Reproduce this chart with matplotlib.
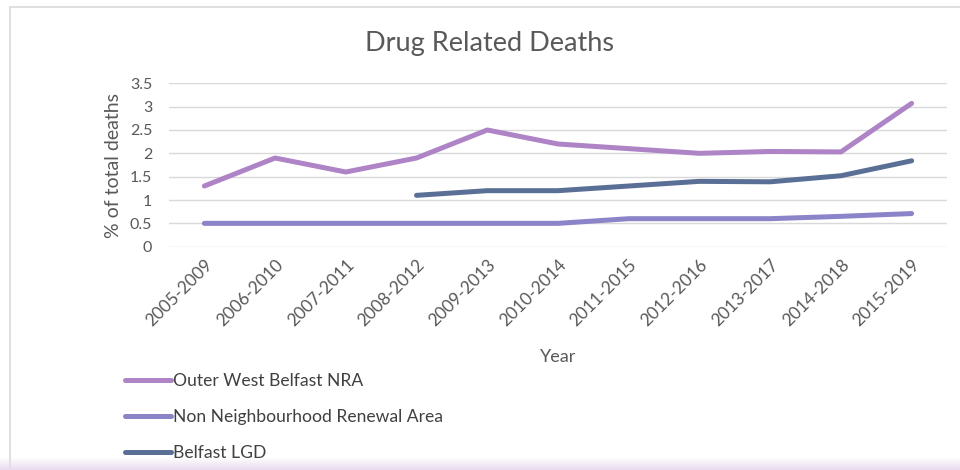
import numpy as np
import matplotlib
matplotlib.use("Agg")
import matplotlib.pyplot as plt
from matplotlib.patches import Rectangle

# data
periods = ["2005-2009", "2006-2010", "2007-2011", "2008-2012", "2009-2013", "2010-2014",
           "2011-2015", "2012-2016", "2013-2017", "2014-2018", "2015-2019"]
outer_west = [1.3, 1.9, 1.6, 1.9, 2.5, 2.2, 2.1, 2.0, 2.04, 2.03, 3.07]
non_nra = [0.5, 0.5, 0.5, 0.5, 0.5, 0.5, 0.6, 0.6, 0.6, 0.65, 0.71]
belfast_lgd = [np.nan, np.nan, np.nan, 1.1, 1.2, 1.2, 1.3, 1.4, 1.39, 1.52, 1.84]
y_ticks = [0, 0.5, 1, 1.5, 2, 2.5, 3, 3.5]
y_tick_labels = ["0", "0.5", "1", "1.5", "2", "2.5", "3", "3.5"]

plt.rcParams['font.family'] = ['Lato', 'DejaVu Sans']
grey = "#595959"

fig = plt.figure(figsize=(9.6, 4.7), dpi=100)

# chart frame and bottom tint
fig.patches.append(Rectangle((9.5/960, 0), 1.0, 1 - 6.5/470, transform=fig.transFigure,
                             facecolor="white", edgecolor="#d9d9d9", lw=1.2, zorder=0))
for i in range(12):
    fig.patches.append(Rectangle((0, i/470), 1, 1/470, transform=fig.transFigure,
                                 facecolor="#e9dcf0", alpha=1 - i/12, lw=0, zorder=1))

ax = fig.add_axes([169/960, 1 - 246.7/470, (947 - 169)/960, (246.7 - 83.3)/470])
ax.set_zorder(3)
ax.patch.set_alpha(0)
x = np.arange(len(periods))
lw = 3.6
ax.plot(x, outer_west, color="#ae84c6", lw=lw, solid_capstyle="round", label="Outer West Belfast NRA")
ax.plot(x, non_nra, color="#8c84c8", lw=lw, solid_capstyle="round", label="Non Neighbourhood Renewal Area")
ax.plot(x, belfast_lgd, color="#5a6f96", lw=lw, solid_capstyle="round", label="Belfast LGD")

ax.set_xlim(-0.5, len(periods) - 0.5)
ax.set_ylim(0, 3.5)
ax.set_yticks(y_ticks)
ax.set_yticklabels(y_tick_labels)
ax.set_xticks(x)
ax.set_xticklabels(periods, rotation=45, ha="right", rotation_mode="anchor")
ax.grid(axis="y", color="#d9d9d9", lw=1)
ax.set_axisbelow(True)
for s in ax.spines.values():
    s.set_visible(False)
ax.tick_params(axis="x", length=0, labelsize=12.5, colors=grey, pad=7)
ax.tick_params(axis="y", length=0, labelsize=11.5, colors=grey, pad=12)

ax.set_ylabel("% of total deaths", fontsize=14, color=grey, labelpad=6)
ax.set_xlabel("Year", fontsize=13, color=grey, labelpad=14)
fig.text(490/960, 1 - 43/470, "Drug Related Deaths", fontsize=19.5, color=grey,
         ha="center", va="center")

leg = fig.legend(loc="upper left", bbox_to_anchor=(125/960, 1 - 373/470), frameon=False,
                 fontsize=12.6, labelspacing=1.15, handlelength=2.65, handletextpad=0.1,
                 borderpad=0, borderaxespad=0)
leg.set_zorder(4)
for t in leg.get_texts():
    t.set_color("#404040")

fig.savefig("out.png", dpi=100)
